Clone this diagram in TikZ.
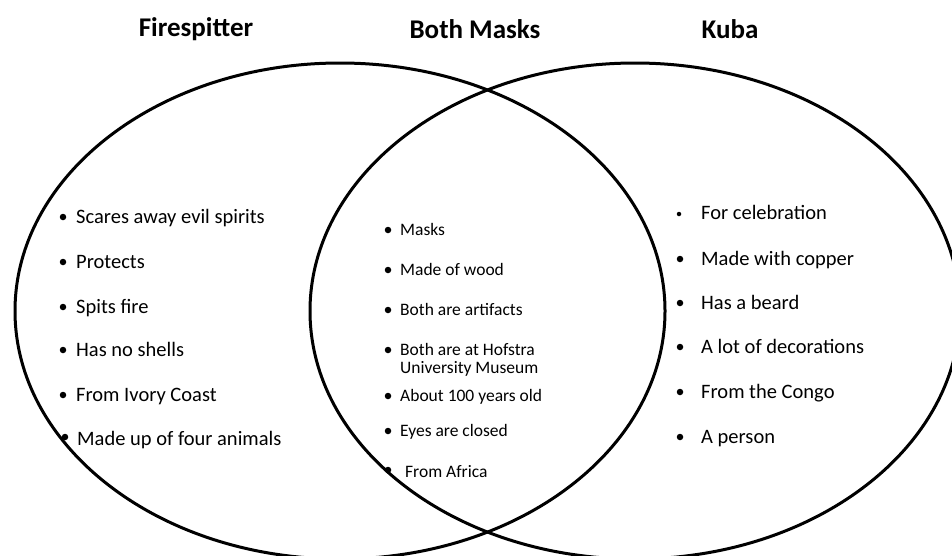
\documentclass[tikz,border=0pt]{standalone}
\usepackage{fontspec}
\setmainfont{Carlito}
\usetikzlibrary{shapes.geometric}
\tikzset{
  venn/.style={ellipse, draw=black, line width=3pt, minimum width=650pt, minimum height=496pt, inner sep=0pt},
  title/.style={font=\fontsize{27}{30}\selectfont\bfseries, inner sep=0pt, anchor=center},
  bigitem/.style={font=\fontsize{20.5}{24}\selectfont, inner sep=0pt, anchor=base west, align=left},
  smallitem/.style={font=\fontsize{17.5}{19}\selectfont, inner sep=0pt, anchor=base west, align=left},
  dot/.style={circle, fill=black, inner sep=0pt, minimum size=6.5pt},
  smalldot/.style={circle, fill=black, inner sep=0pt, minimum size=4.5pt}
}
\begin{document}
\begin{tikzpicture}[x=1pt, y=-1pt]
\useasboundingbox (0,0) rectangle (952,555);
\clip (0,0) rectangle (952,555);
\fill[white] (0,0) rectangle (952,555);
% circles
\node[venn] (L) at (340,311) {};
\node[venn] (R) at (635,311) {};
% titles
\node[title] (t1) at (196,29) {Firespitter};
\node[title] (t2) at (475,29) {Both Masks};
\node[title] (t3) at (730,29) {Kuba};
% left list
\node[dot] (lb1) at (63,217) {}; \node[bigitem] (l1) at (76,223.5) {Scares away evil spirits};
\node[dot] (lb2) at (63,262) {}; \node[bigitem] (l2) at (76,268.5) {Protects};
\node[dot] (lb3) at (63,307) {}; \node[bigitem] (l3) at (76,313.5) {Spits fire};
\node[dot] (lb4) at (63,350) {}; \node[bigitem] (l4) at (76,356.5) {Has no shells};
\node[dot] (lb5) at (63,395) {}; \node[bigitem] (l5) at (76,401.5) {From Ivory Coast};
\node[dot] (lb6) at (65,437) {}; \node[bigitem] (l6) at (77,445.5) {Made up of four animals};
% middle list
\node[dot] (mb1) at (388,230) {}; \node[smallitem] (m1) at (400,235.5) {Masks};
\node[dot] (mb2) at (388,270) {}; \node[smallitem] (m2) at (400,275.5) {Made of wood};
\node[dot] (mb3) at (388,310) {}; \node[smallitem] (m3) at (400,315.5) {Both are artifacts};
\node[dot] (mb4) at (388,350) {}; \node[smallitem] (m4) at (400,355.5) {Both are at Hofstra};
\node[smallitem] (m4b) at (400,373.5) {University Museum};
\node[dot] (mb5) at (388,396) {}; \node[smallitem] (m5) at (400,401.5) {About 100 years old};
\node[dot] (mb6) at (388,431) {}; \node[smallitem] (m6) at (400,436.5) {Eyes are closed};
\node[dot] (mb7) at (388,470) {}; \node[smallitem] (m7) at (405,477.5) {From Africa};
% right list
\node[smalldot] (rb1) at (679,214) {}; \node[bigitem] (r1) at (701,219.5) {For celebration};
\node[dot] (rb2) at (680,259) {}; \node[bigitem] (r2) at (701,265.5) {Made with copper};
\node[dot] (rb3) at (680,303) {}; \node[bigitem] (r3) at (701,309.5) {Has a beard};
\node[dot] (rb4) at (680,347) {}; \node[bigitem] (r4) at (701,353.5) {A lot of decorations};
\node[dot] (rb5) at (680,392) {}; \node[bigitem] (r5) at (701,398.5) {From the Congo};
\node[dot] (rb6) at (680,437) {}; \node[bigitem] (r6) at (701,443.5) {A person};
\end{tikzpicture}
\end{document}
